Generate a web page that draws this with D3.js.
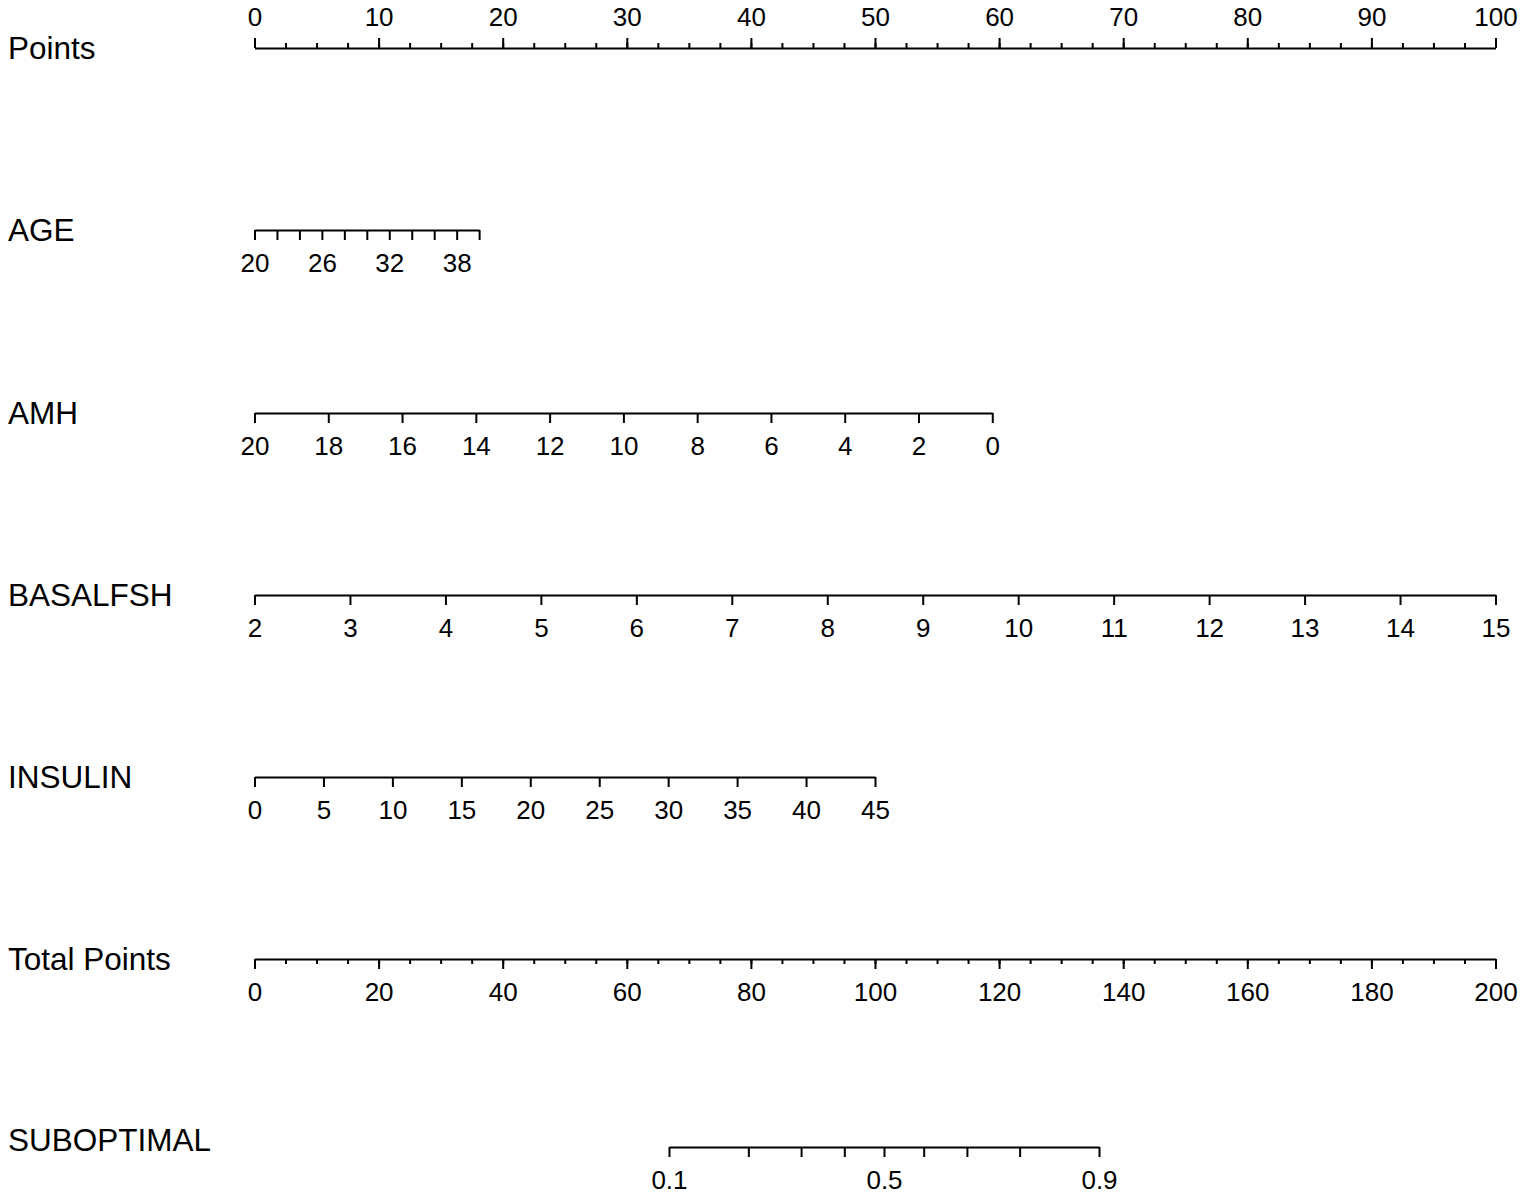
<!DOCTYPE html>
<html>
<head>
<meta charset="utf-8">
<script src="https://cdn.jsdelivr.net/npm/d3@7"></script>
<style>
  body { margin: 0; background: #fff; }
  svg { display: block; }
</style>
</head>
<body>
<div id="chart"></div>
<script>
// points scale (top row)
const pointTicks = d3.range(0, 101, 10);
const pointMinor = d3.range(0, 100.1, 2.5);

// predictor rows: value range and the points they map to
const ageRange = [20, 40];
const agePoints = [0, 18.1];
const ageTicks = d3.range(20, 41, 2);
const ageLabels = [20, 26, 32, 38];

const amhRange = [20, 0];
const amhPoints = [0, 59.45];
const amhTicks = d3.range(20, -1, -2);

const fshRange = [2, 15];
const fshPoints = [0, 100];
const fshTicks = d3.range(2, 16, 1);

const insulinRange = [0, 45];
const insulinPoints = [0, 50];
const insulinTicks = d3.range(0, 46, 5);

// total points
const totalTicks = d3.range(0, 201, 20);
const totalMinor = d3.range(0, 201, 5);

// probability row (logit of total points)
const probTicks = [0.1, 0.2, 0.3, 0.4, 0.5, 0.6, 0.7, 0.8, 0.9];
const probLabels = [0.1, 0.5, 0.9];
const probIntercept = 101.45; // total points at p = 0.5
const probSlope = 15.77;      // total points per logit unit

const rowNames = ['Points', 'AGE', 'AMH', 'BASALFSH', 'INSULIN', 'Total Points', 'SUBOPTIMAL'];
const rowY = [48, 230, 413, 595, 777, 959, 1140];

const width = 1524, height = 1197;
const x0 = 254.5, x1 = 1495.5;
const labelSize = 31.5, tickSize = 26;
const font = '"Liberation Sans", Arial, Helvetica, sans-serif';

const svg = d3.select('#chart').append('svg')
  .attr('width', width)
  .attr('height', height)
  .style('font-family', font);

const px = d3.scaleLinear().domain([0, 100]).range([x0, x1]);
const tx = d3.scaleLinear().domain([0, 200]).range([x0, x1]);

function style(g, labelY) {
  g.attr('font-family', font).attr('font-size', tickSize);
  g.selectAll('path, line').attr('stroke', '#000').attr('stroke-width', 2);
  g.selectAll('text').attr('fill', '#000').attr('dy', null).attr('y', labelY);
}

function drawAxis(scale, y, ticks, labels, top, minor, minorScale) {
  const axisFn = top ? d3.axisTop : d3.axisBottom;
  if (minor) {
    const gm = svg.append('g').attr('transform', 'translate(0,' + y + ')')
      .call(axisFn(minorScale || scale).tickValues(minor).tickSize(5).tickSizeOuter(0).tickFormat(''));
    style(gm, 0);
    gm.select('.domain').remove();
  }
  const fmt = d => (labels && labels.indexOf(d) < 0) ? '' : d3.format('')(d);
  const g = svg.append('g').attr('transform', 'translate(0,' + y + ')')
    .call(axisFn(scale).tickValues(ticks).tickSize(10).tickSizeOuter(0).tickFormat(fmt));
  style(g, top ? -22 : 42);
  return g;
}

// row labels
svg.selectAll('text.row-label')
  .data(rowNames)
  .enter().append('text')
    .attr('class', 'row-label')
    .attr('x', 8)
    .attr('y', (d, i) => rowY[i] + 11)
    .attr('font-size', labelSize)
    .attr('fill', '#000')
    .text(d => d);

// Points
drawAxis(px, rowY[0], pointTicks, null, true, pointMinor);

// predictors
const rows = [
  [ageRange, agePoints, ageTicks, ageLabels],
  [amhRange, amhPoints, amhTicks, null],
  [fshRange, fshPoints, fshTicks, null],
  [insulinRange, insulinPoints, insulinTicks, null]
];
rows.forEach(function(r, i) {
  const s = d3.scaleLinear().domain(r[0]).range(r[1].map(px));
  drawAxis(s, rowY[i + 1], r[2], r[3], false);
});

// Total Points
drawAxis(tx, rowY[5], totalTicks, null, false, totalMinor);

// SUBOPTIMAL: probability placed through its logit on the total-points scale
const logit = p => Math.log(p / (1 - p));
const lp = d3.scaleLinear().domain([0, 1]).range([probIntercept, probIntercept + probSlope]);
const probScale = p => tx(lp(logit(p)));
probScale.range = () => [probScale(probTicks[0]), probScale(probTicks[probTicks.length - 1])];
probScale.domain = () => [probTicks[0], probTicks[probTicks.length - 1]];
probScale.copy = () => probScale;
drawAxis(probScale, 1147, probTicks, probLabels, false);
</script>
</body>
</html>
